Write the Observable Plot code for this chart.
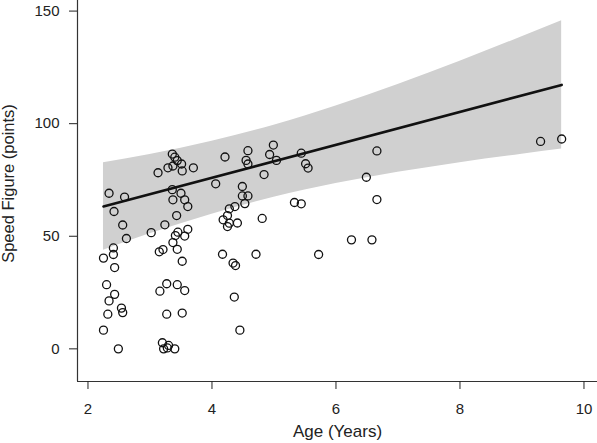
<!DOCTYPE html>
<html><head><meta charset="utf-8">
<script src="https://cdn.jsdelivr.net/npm/d3@7"></script>
<script src="https://cdn.jsdelivr.net/npm/@observablehq/plot@0.6"></script>
<style>body{margin:0;background:#fff}</style>
</head><body><div id="chart"></div>
<script>
// Observations: age (years) and speed figure (points)
const ages = [2.34,2.59,3.13,3.29,3.36,3.40,3.44,3.37,3.51,3.52,3.70,3.36,3.50,3.37,3.56,3.61,4.06,4.21,4.49,4.49,
  4.58,4.53,4.37,4.28,4.25,4.18,4.25,4.28,4.41,4.81,4.58,4.55,4.58,4.84,4.93,4.99,5.04,5.44,5.51,5.55,
  5.33,5.44,6.66,6.49,6.66,6.25,6.58,5.72,9.30,9.64,2.42,2.56,2.62,2.41,2.41,2.25,2.43,2.30,2.43,2.34,
  2.54,2.56,2.32,2.25,2.49,3.02,3.24,3.43,3.41,3.45,3.56,3.61,3.37,3.44,3.52,3.15,3.21,3.27,3.16,3.44,
  3.56,3.27,3.52,3.20,3.22,3.28,3.30,3.40,4.17,4.34,4.38,4.71,4.36,4.45];
const speeds = [69.1,67.4,78.2,80.4,86.5,85.1,83.6,81.2,82.1,79.0,80.4,70.7,69.1,66.2,66.2,63.2,73.3,85.2,72.1,67.9,
  67.9,64.5,63.2,62.2,59.2,57.3,54.3,55.8,55.9,57.9,88.0,83.7,82.1,77.4,86.3,90.5,83.7,86.9,82.2,80.3,
  65.0,64.4,87.9,76.2,66.3,48.4,48.4,41.9,92.1,93.2,61.0,55.0,49.0,44.8,41.9,40.3,36.1,28.5,24.2,21.3,
  18.1,16.1,15.4,8.3,0.0,51.6,55.1,59.2,50.3,51.8,50.1,53.1,47.2,44.2,38.9,43.1,44.1,28.9,25.6,28.5,
  25.9,15.4,15.9,2.7,0.0,0.4,1.5,0.0,42.0,38.1,37.0,42.0,23.0,8.3];

// Fitted line and confidence band
const fitAge = [2.25, 9.64];
const fitSpeed = [63.2, 117.2];
const bandAge  = [2.25, 3, 4, 5, 6, 7, 8, 9, 9.64];
const bandLow  = [43.8, 51.1, 59.8, 67.3, 73.4, 78.4, 82.7, 86.4, 88.7];
const bandHigh = [82.6, 86.3, 92.2, 99.3, 107.8, 117.4, 127.7, 138.6, 145.7];

const xTicks = [2, 4, 6, 8, 10];
const yTicks = [0, 50, 100, 150];
const xDomain = [1.831, 10.218];
const yDomain = [-14.5, 154.7];
const xTitle = "Age (Years)";
const yTitle = "Speed Figure (points)";

const points = ages.map((a, i) => ({age: a, speed: speeds[i]}));
const band = bandAge.map((a, i) => ({age: a, lo: bandLow[i], hi: bandHigh[i]}));
const fit = fitAge.map((a, i) => ({age: a, speed: fitSpeed[i]}));

const chart = Plot.plot({
  width: 597, height: 443,
  marginLeft: 77, marginRight: 0, marginTop: 0, marginBottom: 62,
  style: {fontFamily: "'Liberation Sans', Arial, sans-serif", fontSize: "15px", color: "#222", background: "#fff"},
  x: {domain: xDomain},
  y: {domain: yDomain},
  marks: [
    Plot.areaY(band, {x: "age", y1: "lo", y2: "hi", fill: "#d0d0d0", curve: "monotone-x"}),
    Plot.line(fit, {x: "age", y: "speed", stroke: "#111", strokeWidth: 2.6}),
    Plot.dot(points, {x: "age", y: "speed", r: 4, stroke: "#111", strokeWidth: 1.3, fill: "none"}),
    Plot.ruleX([xDomain[0]], {stroke: "#333", strokeWidth: 1.2}),
    Plot.ruleY([yDomain[0]], {stroke: "#333", strokeWidth: 1.2}),
    Plot.axisX({ticks: xTicks, tickSize: 8, tickPadding: 14, label: null, tickFormat: d => String(d)}),
    Plot.axisY({ticks: yTicks, tickSize: 8, tickPadding: 10, label: null, tickFormat: d => String(d)}),
    Plot.text([xTitle], {text: d => d, frameAnchor: "bottom", lineAnchor: "middle", textAnchor: "middle", dy: 50, fontSize: 17}),
    Plot.text([yTitle], {text: d => d, frameAnchor: "top-left", lineAnchor: "middle", textAnchor: "middle", dx: -69, dy: 183, rotate: -90, fontSize: 16.5})
  ]
});
document.getElementById("chart").appendChild(chart);
</script>
</body></html>
